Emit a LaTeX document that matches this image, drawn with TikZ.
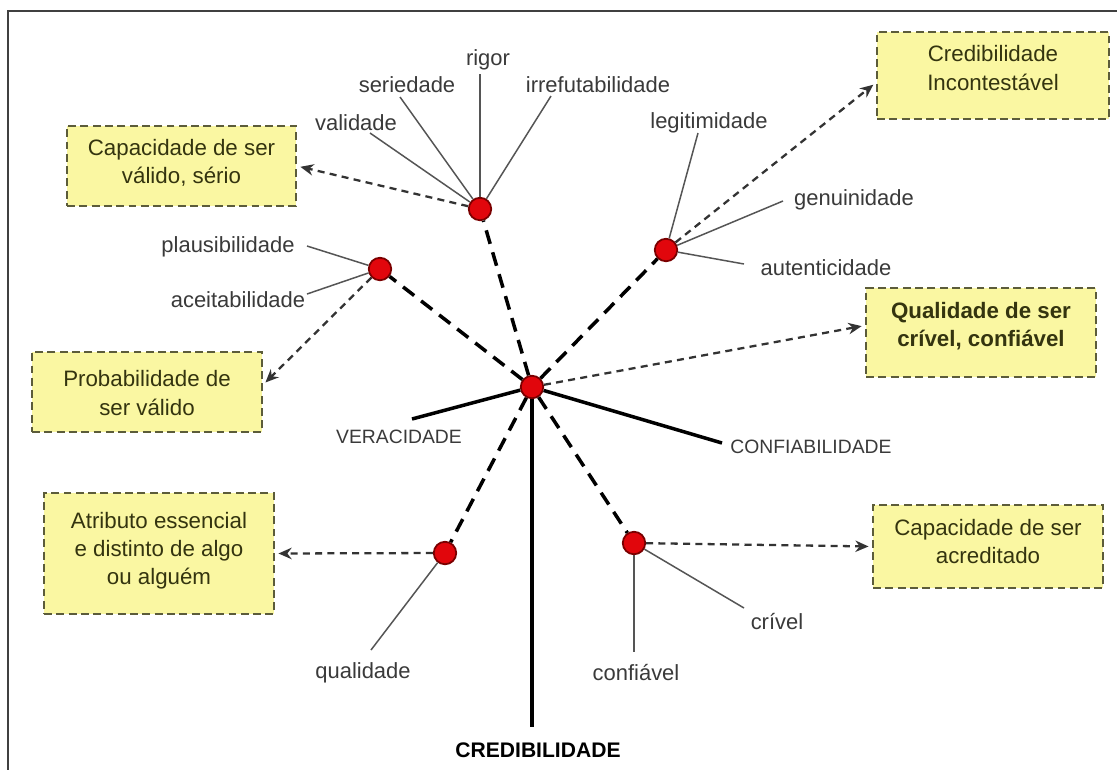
\documentclass[tikz,border=0pt]{standalone}
\usepackage{fontspec}
\setmainfont{Liberation Sans}
\usepackage{xcolor}
\definecolor{boxFill}{HTML}{FAF7A2}
\definecolor{boxEdge}{HTML}{5C5C3A}
\definecolor{boxText}{HTML}{34340F}
\definecolor{dotFill}{HTML}{E1060C}
\definecolor{dotEdge}{HTML}{7A0000}
\definecolor{labelText}{HTML}{3A3A3A}
\definecolor{spokeLine}{HTML}{555555}
\usetikzlibrary{arrows.meta}

\begin{document}
\begin{tikzpicture}[x=0.02cm, y=-0.02cm,
  dot/.style={circle, fill=dotFill, draw=dotEdge, line width=1pt, minimum size=0.45cm, inner sep=0pt},
  word/.style={text=labelText, font=\fontsize{12.5}{15}\selectfont, inner sep=1pt},
  axisword/.style={text=labelText, font=\fontsize{11}{13}\selectfont, inner sep=1pt},
  infobox/.style={fill=boxFill, draw=boxEdge, line width=1.1pt, dash pattern=on 4.5pt off 2.5pt, inner sep=0pt},
  boxtext/.style={text=boxText, align=center, font=\fontsize{12.7}{16}\selectfont, inner sep=0pt},
  spoke/.style={draw=spokeLine, line width=0.85pt},
  axis/.style={draw=black, line width=2pt},
  branch/.style={draw=black, line width=2pt, dash pattern=on 8pt off 5pt},
  pointer/.style={draw=black!80, line width=1.3pt, dash pattern=on 4pt off 3pt, shorten >=2pt, -{Stealth[length=7.5pt,width=6.5pt]}},
]
  \useasboundingbox (0,0) rectangle (1117,769);
  \fill[white] (0,0) rectangle (1117,769);
  \draw[black!75, line width=1.1pt] (8,11) rectangle (1135,785);

  % boxes
  \node[infobox, minimum width=4.58cm, minimum height=1.6cm] (valbox) at (181.5,166) {};
  \node[infobox, minimum width=4.6cm, minimum height=1.6cm] (probbox) at (147,392) {};
  \node[infobox, minimum width=4.6cm, minimum height=2.42cm] (attrbox) at (159,553.5) {};
  \node[infobox, minimum width=4.64cm, minimum height=1.74cm] (credbox) at (993,75.5) {};
  \node[infobox, minimum width=4.6cm, minimum height=1.78cm] (qualbox) at (981,332.5) {};
  \node[infobox, minimum width=4.6cm, minimum height=1.66cm] (acrebox) at (988,546.5) {};

  \node[boxtext] (valtext) at (181.5,163) {Capacidade de ser\\válido, sério};
  \node[boxtext] (probtext) at (147,393) {Probabilidade de\\ser válido};
  \node[boxtext] (attrtext) at (159,551) {Atributo essencial\\e distinto de algo\\ou alguém};
  \node[boxtext] (credtext) at (993,68) {Credibilidade\\Incontestável};
  \node[boxtext, font=\bfseries\fontsize{12.7}{16}\selectfont] (qualtext) at (981,326) {Qualidade de ser\\crível, confiável};
  \node[boxtext] (acretext) at (988,541.5) {Capacidade de ser\\acreditado};

  % dots
  \node[dot] (hub) at (532,387) {};
  \node[dot] (topdot) at (480,209) {};
  \node[dot] (leftdot) at (380,269) {};
  \node[dot] (rightdot) at (666,250) {};
  \node[dot] (lowleft) at (445,553) {};
  \node[dot] (lowright) at (634,543) {};

  % labels
  \node[word] (rigor) at (488,60) {rigor};
  \node[word] (seriedade) at (407,85) {seriedade};
  \node[word] (validade) at (356,123) {validade};
  \node[word] (irrefut) at (598,85) {irrefutabilidade};
  \node[word] (legitim) at (709,123) {legitimidade};
  \node[word] (genuin) at (854,200) {genuinidade};
  \node[word] (autent) at (826,268) {autenticidade};
  \node[word] (plausib) at (228,247) {plausibilidade};
  \node[word] (aceitab) at (238,300) {aceitabilidade};
  \node[word] (qualidade) at (363,673) {qualidade};
  \node[word] (confiavel) at (636,673) {confiável};
  \node[word] (crivel) at (777,622) {crível};
  \node[axisword] (veracid) at (399,437) {VERACIDADE};
  \node[axisword] (confiab) at (811,447) {CONFIABILIDADE};
  \node[font=\bfseries\fontsize{12}{14}\selectfont] (credib) at (538,750) {CREDIBILIDADE};

  % free ends of the spokes
  \coordinate (rigorEnd) at (480,74);
  \coordinate (seriedadeEnd) at (400,97);
  \coordinate (validadeEnd) at (370,133);
  \coordinate (irrefutEnd) at (551,96);
  \coordinate (legitimEnd) at (698,133);
  \coordinate (genuinEnd) at (783,201);
  \coordinate (autentEnd) at (744,264);
  \coordinate (plausibEnd) at (307,246);
  \coordinate (aceitabEnd) at (307,294);
  \coordinate (qualidadeEnd) at (371,650);
  \coordinate (confiavelEnd) at (634,652);
  \coordinate (crivelEnd) at (744,608);
  \coordinate (veracidEnd) at (412,419);
  \coordinate (confiabEnd) at (722,443);
  \coordinate (credibEnd) at (532,727);

  \draw[spoke] (topdot) -- (rigorEnd);
  \draw[spoke] (topdot) -- (seriedadeEnd);
  \draw[spoke] (topdot) -- (validadeEnd);
  \draw[spoke] (topdot) -- (irrefutEnd);
  \draw[spoke] (rightdot) -- (legitimEnd);
  \draw[spoke] (rightdot) -- (genuinEnd);
  \draw[spoke] (rightdot) -- (autentEnd);
  \draw[spoke] (leftdot) -- (plausibEnd);
  \draw[spoke] (leftdot) -- (aceitabEnd);
  \draw[spoke] (lowleft) -- (qualidadeEnd);
  \draw[spoke] (lowright) -- (confiavelEnd);
  \draw[spoke] (lowright) -- (crivelEnd);

  \draw[axis] (hub) -- (veracidEnd);
  \draw[axis] (hub) -- (confiabEnd);
  \draw[axis] (hub) -- (credibEnd);

  \draw[branch] (hub) -- (topdot);
  \draw[branch] (hub) -- (leftdot);
  \draw[branch] (hub) -- (rightdot);
  \draw[branch] (hub) -- (lowleft);
  \draw[branch] (hub) -- (lowright);

  \draw[pointer] (topdot) -- (valbox.east);
  \draw[pointer] (leftdot) -- ([yshift=4pt]probbox.east);
  \draw[pointer] (lowleft) -- (attrbox.east);
  \draw[pointer] (rightdot) -- ([yshift=-4pt]credbox.west);
  \draw[pointer] (hub) -- ([yshift=4pt]qualbox.west);
  \draw[pointer] (lowright) -- (acrebox.west);
\end{tikzpicture}
\end{document}
